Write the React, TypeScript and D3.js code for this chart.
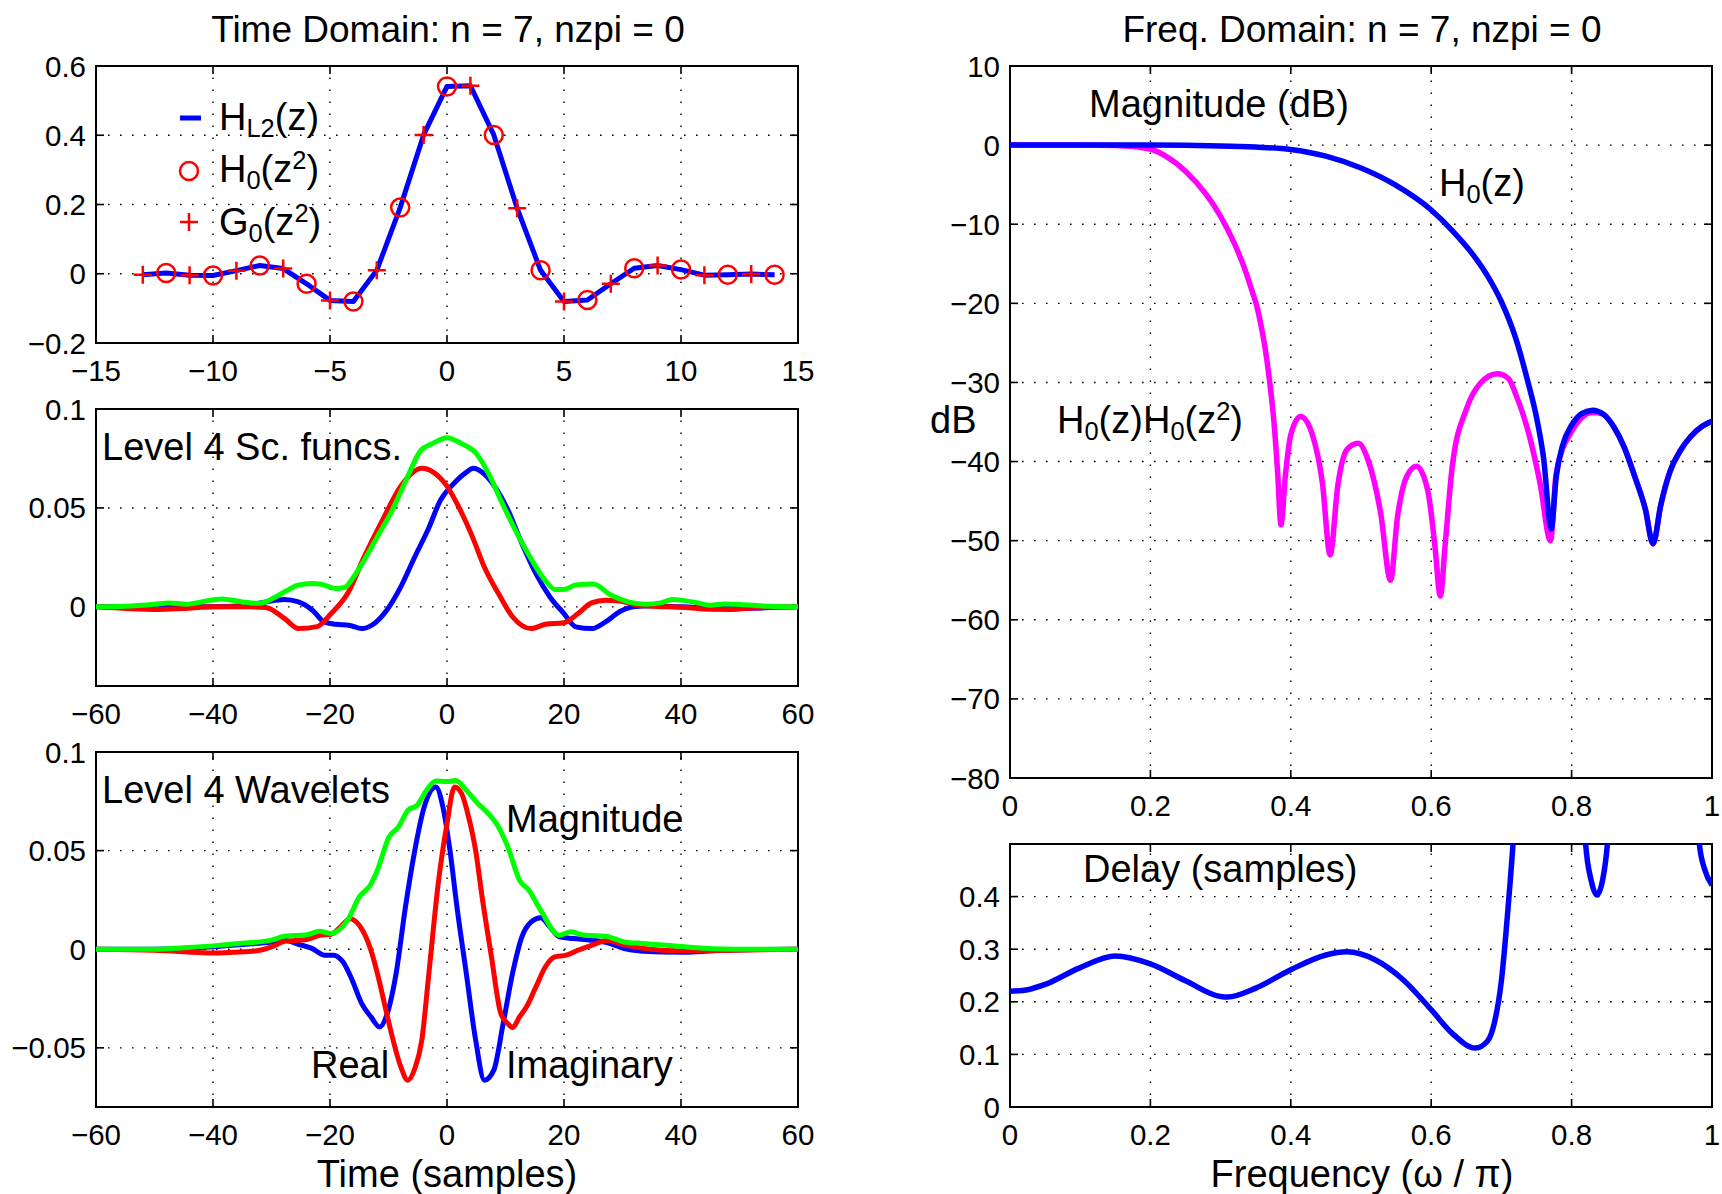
import React from 'react';
import * as d3 from 'd3';

const W = 1722;
const H = 1194;
const FONT = '"Liberation Sans", Arial, Helvetica, sans-serif';

// ---------- data ----------
// top left: HL2(z) impulse response (even samples = H0(z^2), odd = G0(z^2))
const hTime = [-13, -12, -11, -10, -9, -8, -7, -6, -5, -4, -3, -2, -1, 0, 1, 2, 3, 4, 5, 6, 7, 8, 9, 10, 11, 12, 13, 14];
const hL2 = [-0.003, 0.002, -0.004, -0.005, 0.009, 0.024, 0.015, -0.029, -0.077, -0.08, 0.01, 0.191, 0.401, 0.541,
  0.543, 0.401, 0.189, 0.01, -0.08, -0.076, -0.029, 0.016, 0.024, 0.012, -0.004, -0.003, -0.001, -0.003];

// middle left: level 4 scaling functions [t, value]
const scImag: [number, number][] = [[-60, 0], [-50, 0.0003], [-40, 0], [-35, 0.0005], [-31, 0.0025], [-27.8, 0.0037],
  [-25.4, 0.0025], [-23, -0.0017], [-21, -0.0076], [-19, -0.0088], [-16.6, -0.0094], [-14.6, -0.011], [-12.6, -0.0088],
  [-10.3, -0.0017], [-7.9, 0.0101], [-5.5, 0.0253], [-3.1, 0.04], [-1.1, 0.054], [0.9, 0.0615], [3.3, 0.068],
  [4.5, 0.07], [6, 0.068], [8, 0.0615], [10.4, 0.049], [12.8, 0.032], [15.2, 0.0168], [17.6, 0.005], [20, -0.0034],
  [22, -0.0101], [24.8, -0.011], [27.1, -0.0076], [29.5, -0.0025], [31.9, 0], [35, 0.0005], [40, 0], [48, -0.0008], [60, 0]];
const scReal: [number, number][] = [[-60, 0], [-50, -0.0013], [-45, -0.0008], [-40, 0], [-34, 0], [-31, -0.0003],
  [-27.8, -0.0058], [-25.4, -0.011], [-22.2, -0.01], [-19.8, -0.0034], [-17, 0.0067], [-14.2, 0.025], [-11, 0.044],
  [-7.9, 0.061], [-4.3, 0.07], [-2.3, 0.068], [0, 0.061], [2, 0.0505], [4.4, 0.035], [6.4, 0.02], [8.8, 0.0067],
  [11.2, -0.005], [14.4, -0.011], [16.8, -0.0088], [20, -0.008], [22.4, -0.0034], [24.7, 0.002], [27.1, 0.0034],
  [29.5, 0.003], [32.7, 0.0008], [37.5, 0], [40.7, -0.0003], [44.7, -0.0012], [48.7, -0.0013], [52.6, -0.0005], [60, 0]];
const scMag: [number, number][] = [[-60, 0], [-55, 0.0003], [-50, 0.0013], [-47.5, 0.002], [-44.5, 0.0013], [-42, 0.0025],
  [-38.5, 0.004], [-35, 0.0025], [-32.5, 0.0018], [-31, 0.0025], [-29.5, 0.0047], [-27, 0.0088], [-25.5, 0.011],
  [-23, 0.0118], [-21.5, 0.0114], [-19, 0.0093], [-17.5, 0.0098], [-16, 0.015], [-13.5, 0.027], [-12, 0.035],
  [-9.5, 0.048], [-7, 0.064], [-4.5, 0.079], [-2.5, 0.0825], [0, 0.0855], [2.5, 0.0825], [5, 0.0775], [7, 0.068],
  [9.5, 0.052], [12, 0.037], [14.5, 0.0236], [17, 0.0126], [18.5, 0.0088], [20, 0.0088], [22, 0.011], [25, 0.0115],
  [28, 0.006], [31, 0.0025], [34, 0.0013], [36.5, 0.002], [38.5, 0.0037], [40, 0.0034], [42.5, 0.0022], [45, 0.0008],
  [47.5, 0.0015], [50, 0.0012], [55, 0.0003], [60, 0]];

// bottom left: level 4 wavelets [t, value]
const wvImag: [number, number][] = [[-60, 0], [-50, 0], [-40, 0.0012], [-35, 0.0024], [-30, 0.0037], [-27.8, 0.0046],
  [-25.4, 0.0025], [-23, 0.0003], [-21, -0.003], [-19.4, -0.003], [-17.8, -0.0064], [-16.2, -0.0157], [-14.6, -0.0275],
  [-13, -0.0343], [-11.5, -0.0394], [-10.3, -0.0334], [-8.7, -0.0123], [-7.1, 0.0215], [-5.5, 0.0502], [-3.9, 0.0721],
  [-1.9, 0.0823], [-0.7, 0.0721], [0.5, 0.0502], [1.7, 0.0215], [3.3, -0.0123], [4.9, -0.0461], [6.4, -0.0664],
  [8, -0.0613], [9.6, -0.0377], [11.2, -0.0123], [12.8, 0.0063], [14.4, 0.0139], [16, 0.016], [17.6, 0.0113],
  [19.2, 0.0063], [21.6, 0.0054], [24.7, 0.0046], [27.9, 0.0029], [30.3, 0.0003], [32.7, -0.0008], [36.7, -0.0014],
  [40.7, -0.0015], [45.4, -0.0008], [52.6, -0.0002], [60, 0]];
const wvReal: [number, number][] = [[-60, 0], [-50, -0.0005], [-45, -0.0013], [-40, -0.0019], [-36.5, -0.0015],
  [-32.5, -0.0008], [-30, 0.0012], [-27.8, 0.004], [-24, 0.0049], [-21.8, 0.0071], [-19.8, 0.0076], [-18.2, 0.0113],
  [-16.6, 0.0155], [-15, 0.0122], [-13, -0.0005], [-11.9, -0.0123], [-10.7, -0.0275], [-9.5, -0.0427], [-7.9, -0.0596],
  [-6.7, -0.0664], [-5.5, -0.0605], [-4.3, -0.046], [-3.1, -0.0123], [-1.5, 0.0333], [0, 0.0637], [1.3, 0.0823],
  [2.5, 0.0789], [3.7, 0.067], [4.9, 0.05], [6, 0.0265], [7.6, -0.0039], [9.2, -0.0326], [10.4, -0.0377],
  [11.2, -0.0397], [12.4, -0.0343], [13.6, -0.0292], [15.2, -0.0191], [16.8, -0.009], [18.4, -0.0039], [20.4, -0.003],
  [22.4, -0.0005], [24.7, 0.002], [27.5, 0.0046], [29.5, 0.0029], [32.7, 0.0008], [36.7, -0.0005], [40.7, -0.0008],
  [48.6, -0.0005], [60, 0]];
const wvMag: [number, number][] = [[-60, 0], [-50, 0], [-45, 0.0007], [-40, 0.0017], [-35, 0.003], [-30, 0.0046],
  [-27.8, 0.0066], [-24, 0.0073], [-21.8, 0.0091], [-19.8, 0.008], [-17, 0.0147], [-15, 0.0265], [-13, 0.033],
  [-11.9, 0.04], [-9.9, 0.057], [-8.3, 0.062], [-6.7, 0.0704], [-5.1, 0.073], [-3.5, 0.0806], [-1.9, 0.0853],
  [0, 0.085], [1.5, 0.0856], [3.3, 0.0806], [5.3, 0.0738], [6.8, 0.0696], [8.8, 0.062], [10.4, 0.0519], [12.4, 0.035],
  [14, 0.0299], [16, 0.0198], [19.2, 0.0071], [21.2, 0.0088], [23.5, 0.0071], [27.1, 0.0066], [30.3, 0.0037],
  [33.5, 0.0029], [37.5, 0.002], [40.7, 0.0012], [45.4, 0.0003], [52.6, 0], [60, 0]];

// top right: magnitude responses in dB [omega/pi, dB]
const h0Db: [number, number][] = [[0, 0], [0.1, 0], [0.2, 0], [0.3, -0.1], [0.35, -0.25], [0.4, -0.55], [0.45, -1.4],
  [0.5, -2.9], [0.55, -5.1], [0.6, -8.2], [0.63, -10.8], [0.66, -13.9], [0.68, -16.5], [0.7, -19.8], [0.72, -24.3],
  [0.738, -30], [0.75, -34.4], [0.76, -39.5], [0.771, -48.5], [0.778, -42], [0.787, -38], [0.8, -35.4], [0.815, -33.9],
  [0.83, -33.5], [0.845, -34], [0.86, -35.6], [0.875, -38.2], [0.89, -41.9], [0.905, -46], [0.916, -50.4],
  [0.927, -45.5], [0.94, -41.3], [0.955, -38.6], [0.97, -36.8], [0.985, -35.6], [1, -34.9]];
const h0h0Db: [number, number][] = [[0, 0], [0.1, 0], [0.15, -0.05], [0.2, -0.5], [0.22, -1.3], [0.25, -3.3],
  [0.28, -6.3], [0.3, -9.0], [0.32, -12.5], [0.335, -15.8], [0.345, -18.5], [0.352, -20.5], [0.358, -23],
  [0.364, -26], [0.37, -30], [0.376, -35], [0.381, -41], [0.386, -48], [0.392, -42], [0.4, -36.6], [0.414, -34.3],
  [0.43, -36.4], [0.445, -42.7], [0.456, -51.8], [0.467, -43], [0.48, -38.5], [0.496, -37.7], [0.51, -39.8],
  [0.528, -46.5], [0.542, -55], [0.552, -47], [0.565, -41.9], [0.579, -40.6], [0.595, -43.6], [0.605, -50.4],
  [0.613, -57], [0.62, -50.4], [0.63, -40.6], [0.65, -33.4], [0.67, -30.1], [0.694, -28.9], [0.71, -29.5],
  [0.72, -31.4], [0.74, -36.8], [0.755, -42.7], [0.77, -50], [0.778, -41.5], [0.8, -36.2], [0.83, -33.8],
  [0.845, -34], [0.86, -35.6], [0.875, -38.2], [0.89, -41.9], [0.905, -46], [0.916, -50.4], [0.927, -45.5],
  [0.94, -41.3], [0.955, -38.6], [0.97, -36.8], [0.985, -35.6], [1, -34.9]];

// bottom right: group delay [omega/pi, samples]
const delay: [number, number][] = [[0, 0.22], [0.025, 0.223], [0.05, 0.233], [0.1, 0.265], [0.15, 0.287], [0.2, 0.272],
  [0.25, 0.24], [0.3, 0.21], [0.31, 0.209], [0.35, 0.226], [0.4, 0.261], [0.45, 0.289], [0.48, 0.295], [0.52, 0.28],
  [0.56, 0.242], [0.6, 0.185], [0.63, 0.14], [0.663, 0.112], [0.68, 0.125], [0.69, 0.16], [0.7, 0.24], [0.71, 0.387],
  [0.7165, 0.5], [0.725, 0.7], [0.77, 1.5], [0.812, 0.7], [0.82, 0.5], [0.828, 0.43], [0.836, 0.403], [0.844, 0.43],
  [0.851, 0.5], [0.86, 0.7], [0.92, 1.5], [0.975, 0.7], [0.982, 0.5], [0.99, 0.45], [1, 0.422]];

// tick values
const ticksT1 = [-15, -10, -5, 0, 5, 10, 15];
const ticksY1 = [-0.2, 0, 0.2, 0.4, 0.6];
const ticksT2 = [-60, -40, -20, 0, 20, 40, 60];
const ticksY2 = [0, 0.05, 0.1];
const ticksY3 = [-0.05, 0, 0.05, 0.1];
const ticksF = [0, 0.2, 0.4, 0.6, 0.8, 1];
const ticksDb = [-80, -70, -60, -50, -40, -30, -20, -10, 0, 10];
const ticksDelay = [0, 0.1, 0.2, 0.3, 0.4];

const fmt = (v: number) => String(+v.toFixed(3)).replace('-', '\u2212');

type Scale = d3.ScaleLinear<number, number>;
type Seg = { t: string; sub?: boolean; sup?: boolean };

// text with sub/superscripts, every tspan carries text
function Rich({ x, y, segs, size = 38 }: { x: number; y: number; segs: Seg[]; size?: number }) {
  let cur = 0;
  return (
    <text x={x} y={y} fontSize={size}>
      {segs.map((s, i) => {
        const target = s.sub ? 7 : s.sup ? -13 : 0;
        const dy = target - cur;
        cur = target;
        return (
          <tspan key={i} dy={dy} fontSize={s.sub || s.sup ? size * 0.67 : size}>{s.t}</tspan>
        );
      })}
    </text>
  );
}

function Frame({ x, y, xTicks, yTicks, id }: { x: Scale; y: Scale; xTicks: number[]; yTicks: number[]; id: string }) {
  const [x0, x1] = x.range();
  const [y0, y1] = y.range();
  const tl = 8;
  const grid = { stroke: '#000', strokeWidth: 1.4, strokeDasharray: '1.6 10.4' };
  return (
    <g>
      <clipPath id={id}>
        <rect x={x0} y={y1} width={x1 - x0} height={y0 - y1} />
      </clipPath>
      {xTicks.filter(t => Math.abs(x(t) - x0) > 2 && Math.abs(x(t) - x1) > 2).map(t => (
        <line key={'gx' + t} x1={x(t)} x2={x(t)} y1={y0} y2={y1} {...grid} />
      ))}
      {yTicks.filter(t => Math.abs(y(t) - y0) > 2 && Math.abs(y(t) - y1) > 2).map(t => (
        <line key={'gy' + t} x1={x0} x2={x1} y1={y(t)} y2={y(t)} {...grid} />
      ))}
      {xTicks.map(t => (
        <g key={'tx' + t}>
          <line x1={x(t)} x2={x(t)} y1={y0} y2={y0 - tl} stroke="#000" strokeWidth={1.6} />
          <line x1={x(t)} x2={x(t)} y1={y1} y2={y1 + tl} stroke="#000" strokeWidth={1.6} />
          <text x={x(t)} y={y0 + 38} textAnchor="middle" fontSize={29.5}>{fmt(t)}</text>
        </g>
      ))}
      {yTicks.map(t => (
        <g key={'ty' + t}>
          <line x1={x0} x2={x0 + tl} y1={y(t)} y2={y(t)} stroke="#000" strokeWidth={1.6} />
          <line x1={x1} x2={x1 - tl} y1={y(t)} y2={y(t)} stroke="#000" strokeWidth={1.6} />
          <text x={x0 - 10} y={y(t) + 10.5} textAnchor="end" fontSize={29.5}>{fmt(t)}</text>
        </g>
      ))}
      <rect x={x0} y={y1} width={x1 - x0} height={y0 - y1} fill="none" stroke="#000" strokeWidth={2} />
    </g>
  );
}

function Curve({ data, x, y, color, clip, linear, width = 5 }: { data: [number, number][]; x: Scale; y: Scale; color: string; clip: string; linear?: boolean; width?: number }) {
  const gen = d3.line<[number, number]>()
    .x(d => x(d[0]))
    .y(d => y(d[1]))
    .curve(linear ? d3.curveLinear : d3.curveMonotoneX);
  return <path d={gen(data) || ''} fill="none" stroke={color} strokeWidth={width} strokeLinejoin="round" clipPath={`url(#${clip})`} />;
}

export default function App() {
  const LX0 = 96, LX1 = 798, RX0 = 1010, RX1 = 1712;
  const x1 = d3.scaleLinear().domain([-15, 15]).range([LX0, LX1]);
  const y1 = d3.scaleLinear().domain([-0.2, 0.6]).range([343, 66]);
  const x2 = d3.scaleLinear().domain([-60, 60]).range([LX0, LX1]);
  const y2 = d3.scaleLinear().domain([-0.04, 0.1]).range([686, 409]);
  const y3 = d3.scaleLinear().domain([-0.08, 0.1]).range([1107, 752]);
  const xf = d3.scaleLinear().domain([0, 1]).range([RX0, RX1]);
  const y4 = d3.scaleLinear().domain([-80, 10]).range([778, 66]);
  const y5 = d3.scaleLinear().domain([0, 0.5]).range([1107, 844]);

  const pts = hTime.map((t, i) => [t, hL2[i]] as [number, number]);
  const circles = pts.filter(p => p[0] % 2 === 0);
  const pluses = pts.filter(p => Math.abs(p[0] % 2) === 1);
  const red = '#ff0000', blue = '#0000ff', green = '#00ff00', magenta = '#ff00ff';
  const ps = 9;

  return (
    <svg width={W} height={H} style={{ position: 'absolute', left: 0, top: 0, background: '#fff' }} fontFamily={FONT} fill="#000">
      <rect width={W} height={H} fill="#fff" />
      <text x={448} y={42} textAnchor="middle" fontSize={37}>Time Domain: n = 7, nzpi = 0</text>
      <text x={1362} y={42} textAnchor="middle" fontSize={37}>Freq. Domain: n = 7, nzpi = 0</text>

      {/* panel 1 */}
      <Frame x={x1} y={y1} xTicks={ticksT1} yTicks={ticksY1} id="c1" />
      <Curve data={pts} x={x1} y={y1} color={blue} clip="c1" linear />
      {circles.map(p => (
        <circle key={'c' + p[0]} cx={x1(p[0])} cy={y1(p[1])} r={ps} fill="none" stroke={red} strokeWidth={2.5} />
      ))}
      {pluses.map(p => (
        <path key={'p' + p[0]} d={`M${x1(p[0]) - ps},${y1(p[1])}h${2 * ps}M${x1(p[0])},${y1(p[1]) - ps}v${2 * ps}`} stroke={red} strokeWidth={2.5} />
      ))}
      <line x1={180} x2={201} y1={118} y2={118} stroke={blue} strokeWidth={5} />
      <circle cx={189} cy={171} r={ps} fill="none" stroke={red} strokeWidth={2.5} />
      <path d={`M${189 - ps},222h${2 * ps}M189,${222 - ps}v${2 * ps}`} stroke={red} strokeWidth={2.5} />
      <Rich x={219} y={130} segs={[{ t: 'H' }, { t: 'L2', sub: true }, { t: '(z)' }]} />
      <Rich x={219} y={182} segs={[{ t: 'H' }, { t: '0', sub: true }, { t: '(z' }, { t: '2', sup: true }, { t: ')' }]} />
      <Rich x={219} y={235} segs={[{ t: 'G' }, { t: '0', sub: true }, { t: '(z' }, { t: '2', sup: true }, { t: ')' }]} />

      {/* panel 2 */}
      <Frame x={x2} y={y2} xTicks={ticksT2} yTicks={ticksY2} id="c2" />
      <Curve data={scImag} x={x2} y={y2} color={blue} clip="c2" />
      <Curve data={scReal} x={x2} y={y2} color={red} clip="c2" />
      <Curve data={scMag} x={x2} y={y2} color={green} clip="c2" />
      <text x={102} y={460} fontSize={38}>Level 4 Sc. funcs.</text>

      {/* panel 3 */}
      <Frame x={x2} y={y3} xTicks={ticksT2} yTicks={ticksY3} id="c3" />
      <Curve data={wvImag} x={x2} y={y3} color={blue} clip="c3" />
      <Curve data={wvReal} x={x2} y={y3} color={red} clip="c3" />
      <Curve data={wvMag} x={x2} y={y3} color={green} clip="c3" />
      <text x={102} y={803} fontSize={38}>Level 4 Wavelets</text>
      <text x={506} y={832} fontSize={38}>Magnitude</text>
      <text x={311} y={1078} fontSize={38}>Real</text>
      <text x={506} y={1078} fontSize={38}>Imaginary</text>
      <text x={447} y={1187} textAnchor="middle" fontSize={38}>Time (samples)</text>

      {/* panel 4 */}
      <Frame x={xf} y={y4} xTicks={ticksF} yTicks={ticksDb} id="c4" />
      <Curve data={h0h0Db} x={xf} y={y4} color={magenta} clip="c4" width={5.5} />
      <Curve data={h0Db} x={xf} y={y4} color={blue} clip="c4" width={5.5} />
      <text x={1089} y={117} fontSize={38}>Magnitude (dB)</text>
      <Rich x={1439} y={196} segs={[{ t: 'H' }, { t: '0', sub: true }, { t: '(z)' }]} />
      <Rich x={1057} y={433} segs={[{ t: 'H' }, { t: '0', sub: true }, { t: '(z)H' }, { t: '0', sub: true }, { t: '(z' }, { t: '2', sup: true }, { t: ')' }]} />
      <text x={930} y={433} fontSize={38}>dB</text>

      {/* panel 5 */}
      <Frame x={xf} y={y5} xTicks={ticksF} yTicks={ticksDelay} id="c5" />
      <Curve data={delay} x={xf} y={y5} color={blue} clip="c5" width={5.5} />
      <text x={1083} y={882} fontSize={38}>Delay (samples)</text>
      <text x={1362} y={1187} textAnchor="middle" fontSize={38}>Frequency (ω / π)</text>
    </svg>
  );
}
